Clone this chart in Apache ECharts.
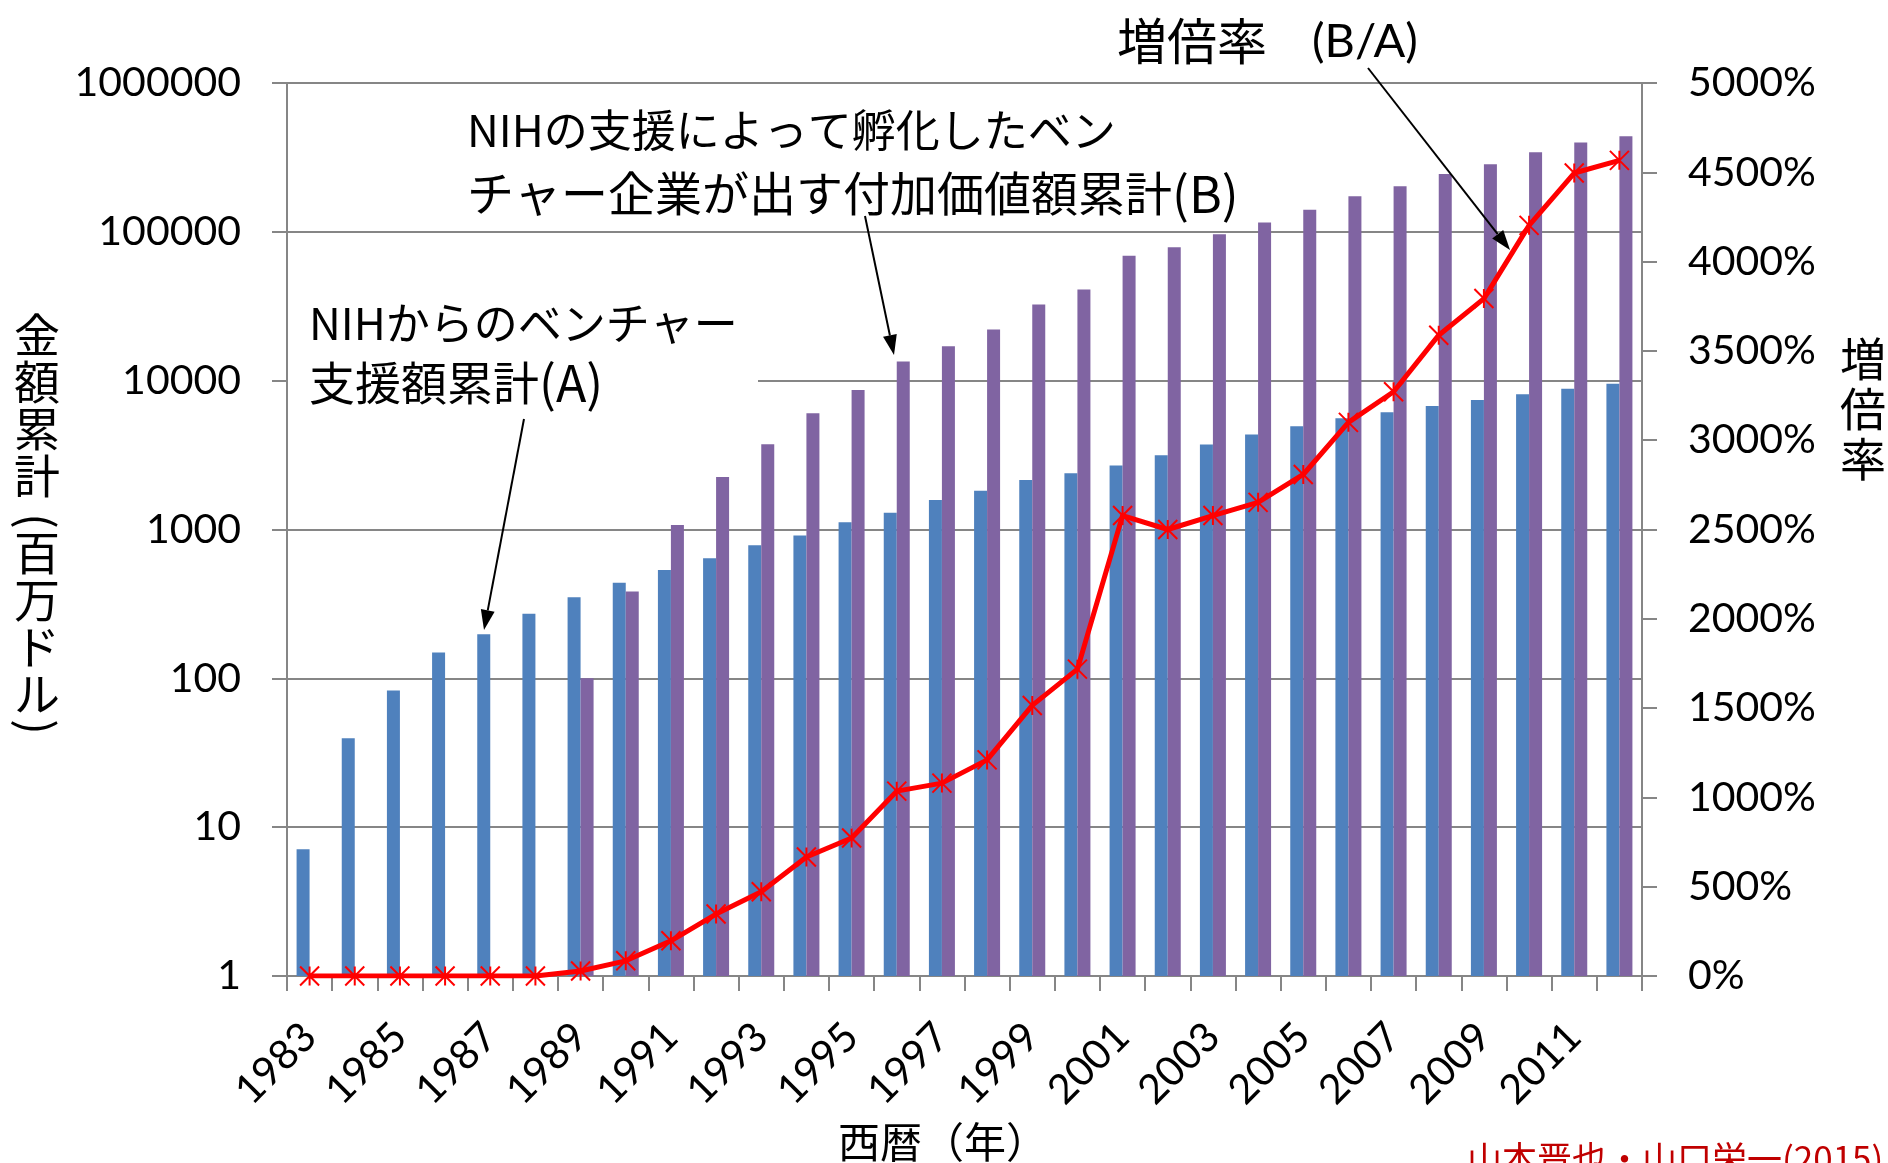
<!DOCTYPE html>
<html>
<head>
<meta charset="utf-8">
<title>NIHの支援額と付加価値額累計</title>
<script src="https://cdn.jsdelivr.net/npm/echarts@6/dist/echarts.min.js"></script>
<style>
html, body { margin: 0; padding: 0; background: #fff; }
#chart { width: 1888px; height: 1163px; }
</style>
</head>
<body>
<div id="chart"></div>
<script>
const years = ['1983', '1984', '1985', '1986', '1987', '1988', '1989', '1990', '1991', '1992',
  '1993', '1994', '1995', '1996', '1997', '1998', '1999', '2000', '2001', '2002',
  '2003', '2004', '2005', '2006', '2007', '2008', '2009', '2010', '2011', '2012']

// NIHからのベンチャー支援額累計 (A)  百万ドル
const supportA = [7.1, 39.5, 83, 149, 198, 272, 351, 439, 534, 641,
  785, 910, 1119, 1298, 1578, 1818, 2147, 2387, 2688, 3153,
  3721, 4340, 4943, 5590, 6126, 6760, 7420, 8090, 8835, 9550]

// 孵化したベンチャー企業が出す付加価値額累計 (B)  百万ドル
const valueB = [null, null, null, null, null, null, 100, 383, 1073, 2250,
  3743, 6030, 8650, 13430, 17030, 22070, 32540, 41030, 69180, 78800,
  96400, 115600, 140600, 173400, 202400, 244800, 284500, 342700, 398000, 438900]

// 増倍率 (B/A)  %
const ratio = [0, 0, 0, 0, 0, 0, 28, 85, 197, 347,
  472, 666, 773, 1035, 1080, 1210, 1515, 1718, 2578, 2500,
  2578, 2652, 2808, 3100, 3271, 3588, 3793, 4203, 4496, 4567]

const axisGray = '#868686'
const numFont = 'Lato'
const jpFont = '"Noto Sans CJK JP"'

function arrow(x1, y1, x2, y2) {
  const len = Math.hypot(x2 - x1, y2 - y1)
  const ux = (x2 - x1) / len
  const uy = (y2 - y1) / len
  const head = 20
  const half = 7
  const bx = x2 - ux * head
  const by = y2 - uy * head
  return [
    { type: 'line', z: 110, shape: { x1: x1, y1: y1, x2: bx, y2: by }, style: { stroke: '#000', lineWidth: 2 } },
    {
      type: 'polygon', z: 110,
      shape: { points: [[x2, y2], [bx - uy * half, by + ux * half], [bx + uy * half, by - ux * half]] },
      style: { fill: '#000' }
    }
  ]
}

function label(text, x, y, size, extra, rotation) {
  const style = Object.assign({
    text: text,
    font: size + 'px ' + jpFont,
    fill: '#000',
    textAlign: 'left',
    textVerticalAlign: 'top'
  }, extra || {})
  return { type: 'text', z: 120, x: x, y: y, rotation: rotation || 0, style: style }
}

const chart = echarts.init(document.getElementById('chart'))

const option = {
  animation: false,
  backgroundColor: '#fff',
  grid: {
    left: 287,
    right: 246,
    top: 83,
    bottom: 187,
    containLabel: false,
    outerBoundsMode: 'none'
  },
  xAxis: {
    type: 'category',
    data: years,
    boundaryGap: true,
    axisLine: { show: true, lineStyle: { color: axisGray, width: 2 } },
    axisTick: { show: true, interval: 0, length: 15, lineStyle: { color: axisGray, width: 2 } },
    axisLabel: {
      interval: 1,
      rotate: 45,
      margin: 54,
      color: '#000',
      fontFamily: numFont,
      fontSize: 41
    },
    splitLine: { show: false }
  },
  yAxis: [
    {
      type: 'log',
      logBase: 10,
      min: 1,
      max: 1000000,
      position: 'left',
      axisLine: { show: true, lineStyle: { color: axisGray, width: 2 } },
      axisTick: { show: true, length: 15, lineStyle: { color: axisGray, width: 2 } },
      minorTick: { show: false },
      splitLine: { show: true, lineStyle: { color: axisGray, width: 2 } },
      axisLabel: {
        margin: 46,
        color: '#000',
        fontFamily: numFont,
        fontSize: 41,
        formatter: function(v) {
          return String(Math.round(v))
        }
      }
    },
    {
      type: 'value',
      min: 0,
      max: 5000,
      interval: 500,
      position: 'right',
      axisLine: { show: true, lineStyle: { color: axisGray, width: 2 } },
      axisTick: { show: true, length: 15, lineStyle: { color: axisGray, width: 2 } },
      splitLine: { show: false },
      axisLabel: {
        margin: 46,
        color: '#000',
        fontFamily: numFont,
        fontSize: 41,
        formatter: function(v) {
          return Math.round(v) + '%'
        }
      }
    }
  ],
  series: [
    {
      name: 'NIHからのベンチャー支援額累計(A)',
      type: 'bar',
      data: supportA,
      barWidth: 13,
      barGap: '0%',
      itemStyle: { color: '#4F81BD' }
    },
    {
      name: '付加価値額累計(B)',
      type: 'bar',
      data: valueB,
      barWidth: 13,
      barGap: '0%',
      itemStyle: { color: '#8064A2' }
    },
    {
      name: '増倍率(B/A)',
      type: 'line',
      yAxisIndex: 1,
      data: ratio,
      z: 5,
      symbol: 'path://M0,0L10,10M10,0L0,10M5,0L5,10',
      symbolSize: 19,
      showAllSymbol: true,
      lineStyle: { color: '#FF0000', width: 5 },
      itemStyle: { color: '#FF0000', borderColor: '#FF0000', borderWidth: 2 }
    }
  ],
  graphic: [
    // white box behind the (A) note hides the grid there
    { type: 'rect', z: 100, shape: { x: 288, y: 283, width: 470, height: 136 }, style: { fill: '#fff' } },
    label('NIHからのベンチャー\n{k|支援額累計}{l|(A)}', 309, 293, 44, {
      lineHeight: 60,
      rich: {
        k: { font: '46px ' + jpFont, lineHeight: 60 },
        l: { font: '50px ' + jpFont, lineHeight: 60 }
      }
    }),
    label('NIHの支援によって孵化したベン\n{k|チャー企業が出す付加価値額累計}{l|(B)}', 467, 99, 44, {
      lineHeight: 63,
      rich: {
        k: { font: '47px ' + jpFont, lineHeight: 63 },
        l: { font: '50px ' + jpFont, lineHeight: 63 }
      }
    }),
    label('増倍率', 1117, 41, 50, { textVerticalAlign: 'middle' }),
    {
      type: 'text', z: 120, x: 1312, y: 42,
      style: { text: '(B/A)', font: '47px ' + numFont, fill: '#000', textAlign: 'left', textVerticalAlign: 'middle' }
    },
    // left axis name, written vertically; the brackets are turned a quarter
    label('金\n額\n累\n計', 37, 311, 46, { lineHeight: 47, textAlign: 'center' }),
    label('百\n万\nド\nル', 37, 529, 46, { lineHeight: 47, textAlign: 'center' }),
    label('(', 37, 521, 46, { textAlign: 'center', textVerticalAlign: 'middle' }, -Math.PI / 2),
    label(')', 37, 727, 46, { textAlign: 'center', textVerticalAlign: 'middle' }, -Math.PI / 2),
    label('増\n倍\n率', 1863, 409, 46, { lineHeight: 50, textAlign: 'center', textVerticalAlign: 'middle' }),
    label('西暦（年）', 943, 1142, 42, { textAlign: 'center', textVerticalAlign: 'middle' }),
    label('山本晋也・山口栄一(2015)', 1467, 1141, 35, { fill: '#C00000' })
  ]
    .concat(arrow(524, 419, 484, 630))
    .concat(arrow(865, 216, 894, 355))
    .concat(arrow(1368, 68, 1510, 250))
}

chart.setOption(option)
</script>
</body>
</html>
